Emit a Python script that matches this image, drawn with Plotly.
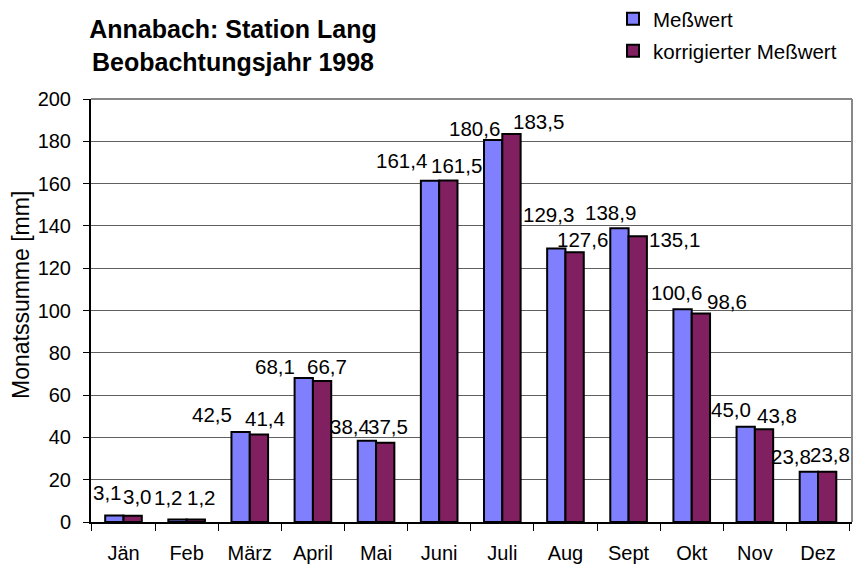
import plotly.graph_objects as go

months = ["Jän", "Feb", "März", "April", "Mai", "Juni", "Juli", "Aug", "Sept", "Okt", "Nov", "Dez"]
messwert = [3.1, 1.2, 42.5, 68.1, 38.4, 161.4, 180.6, 129.3, 138.9, 100.6, 45.0, 23.8]
korrigiert = [3.0, 1.2, 41.4, 66.7, 37.5, 161.5, 183.5, 127.6, 135.1, 98.6, 43.8, 23.8]
yticks = [0, 20, 40, 60, 80, 100, 120, 140, 160, 180, 200]

# label placement tweaks (pixels, relative to category centre / bar top), as in the original chart
lab1_dx = [-16, -18, -38, -38, -26, -38, -28, -17, -18, -15, -24, -27]
lab1_dy = [23, 22, 18, 11, 14, 20, 12, 34, 16, 17, 17, 15]
lab2_dx = [14, 15, 15, 14, 12, 17, 36, 17, 46, 35, 22, 12]
lab2_dy = [19, 22, 16, 14, 16, 15, 12, 13, -3, 12, 14, 17]

def fmt(v):
    return f"{v:.1f}".replace(".", ",")

FONT = "Liberation Sans, Arial, sans-serif"
L, R, T, B = 91, 2, 99, 45
W, H = 854, 567
PW, PH = W - L - R, H - T - B

fig = go.Figure()
fig.add_trace(go.Bar(
    x=months, y=messwert, name="Meßwert",
    marker=dict(color="#8080FF", line=dict(color="black", width=2)),
    legend="legend",
))
fig.add_trace(go.Bar(
    x=months, y=korrigiert, name="korrigierter Meßwert",
    marker=dict(color="#802060", line=dict(color="black", width=2)),
    legend="legend2",
))

annotations = []
for vals, dxs, dys in ((messwert, lab1_dx, lab1_dy), (korrigiert, lab2_dx, lab2_dy)):
    for m, v, dx, dy in zip(months, vals, dxs, dys):
        annotations.append(dict(
            x=m, y=v, xref="x", yref="y", text=fmt(v), showarrow=False,
            xanchor="center", yanchor="middle", xshift=dx, yshift=dy,
            font=dict(size=20.5, color="black", family=FONT),
        ))
annotations.append(dict(
    text="Monatssumme [mm]", textangle=-90, showarrow=False,
    xref="paper", yref="paper", x=(21 - L) / PW, y=(H - B - 295) / PH,
    xanchor="center", yanchor="middle",
    font=dict(size=23, color="black", family=FONT),
))

fig.update_layout(
    width=W, height=H,
    margin=dict(l=L, r=R, t=T, b=B, autoexpand=False),
    paper_bgcolor="white", plot_bgcolor="white",
    font=dict(family=FONT, size=20, color="black"),
    barmode="group", bargap=0.42, bargroupgap=0,
    title=dict(
        text="<b>Annabach: Station Lang<br>Beobachtungsjahr 1998</b>",
        x=233 / W, xanchor="center", y=1 - 38 / H, yanchor="middle",
        font=dict(size=25, family=FONT, color="black"),
    ),
    legend=dict(x=(613 - L) / PW, y=(H - B - 19) / PH, xref="paper", yref="paper",
                xanchor="left", yanchor="middle",
                font=dict(size=20.5), bgcolor="rgba(0,0,0,0)"),
    legend2=dict(x=(613 - L) / PW, y=(H - B - 51) / PH, xref="paper", yref="paper",
                 xanchor="left", yanchor="middle",
                 font=dict(size=20.5), bgcolor="rgba(0,0,0,0)"),
    showlegend=True,
    annotations=annotations,
)
fig.update_xaxes(
    type="category", tickson="boundaries", ticks="outside", ticklen=7,
    tickcolor="black", tickwidth=1, showline=True, linecolor="black", linewidth=2,
    tickfont=dict(size=20), showgrid=False, ticklabelstandoff=12,
)
fig.update_yaxes(
    range=[0, 200], tickvals=yticks, ticks="outside", ticklen=6, tickcolor="black",
    showline=True, linecolor="black", linewidth=2, showgrid=True, gridcolor="#606060",
    gridwidth=1, tickfont=dict(size=20), zeroline=False, ticklabelstandoff=8,
)
fig.add_shape(type="line", xref="paper", yref="paper", x0=1, x1=1, y0=0, y1=1,
              line=dict(color="#888888", width=2))
fig.add_shape(type="line", xref="paper", yref="paper", x0=0, x1=1, y0=1, y1=1,
              line=dict(color="#888888", width=2))

fig.write_html("out.html", config={"displayModeBar": False},
               post_script="document.body.style.margin='0px';document.body.style.overflow='hidden';")
